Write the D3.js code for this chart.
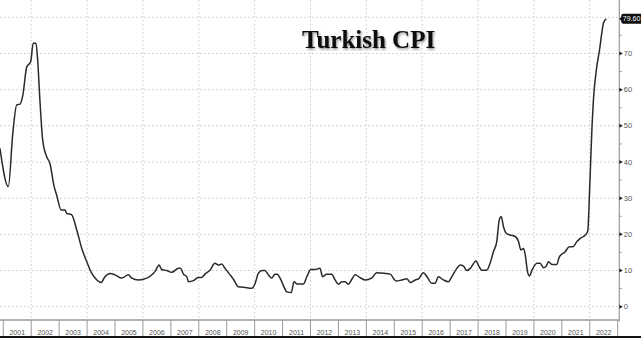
<!DOCTYPE html>
<html>
<head>
<meta charset="utf-8">
<script src="https://cdn.jsdelivr.net/npm/d3@7"></script>
<style>
  html, body { margin: 0; padding: 0; background: #fff; }
  svg { display: block; }
</style>
</head>
<body>
<div id="chart"></div>
<script>
// Turkish CPI, YoY % (decimal year, value)
const dates = [
  2000.88, 2001.18, 2001.34, 2001.48, 2001.60, 2001.70, 2001.84, 2001.98, 2002.07, 2002.17,
  2002.23, 2002.31, 2002.41, 2002.55, 2002.67, 2002.82, 2002.91, 2003.07, 2003.21, 2003.27,
  2003.45, 2003.63, 2003.81, 2003.99, 2004.17, 2004.35, 2004.50, 2004.64, 2004.82, 2005.00,
  2005.24, 2005.48, 2005.60, 2005.84, 2006.14, 2006.37, 2006.43, 2006.58, 2006.67, 2006.85,
  2007.03, 2007.27, 2007.35, 2007.45, 2007.57, 2007.63, 2007.81, 2007.98, 2008.11, 2008.22,
  2008.40, 2008.58, 2008.70, 2008.82, 2008.94, 2009.12, 2009.24, 2009.42, 2009.60, 2009.90,
  2010.02, 2010.13, 2010.26, 2010.37, 2010.49, 2010.61, 2010.73, 2010.81, 2010.91, 2011.05,
  2011.15, 2011.31, 2011.41, 2011.51, 2011.75, 2011.87, 2012.01, 2012.16, 2012.34, 2012.43,
  2012.58, 2012.76, 2012.88, 2013.00, 2013.12, 2013.24, 2013.36, 2013.48, 2013.60, 2013.78,
  2013.96, 2014.20, 2014.37, 2014.67, 2014.85, 2015.07, 2015.27, 2015.45, 2015.57, 2015.75,
  2015.87, 2016.04, 2016.17, 2016.34, 2016.46, 2016.58, 2016.76, 2016.94, 2017.06, 2017.24,
  2017.36, 2017.48, 2017.60, 2017.72, 2017.93, 2018.01, 2018.14, 2018.31, 2018.43, 2018.55,
  2018.67, 2018.76, 2018.83, 2018.91, 2019.01, 2019.15, 2019.33, 2019.45, 2019.53, 2019.63,
  2019.69, 2019.77, 2019.84, 2019.93, 2020.11, 2020.22, 2020.34, 2020.44, 2020.52, 2020.64,
  2020.82, 2020.91, 2021.12, 2021.27, 2021.39, 2021.54, 2021.66, 2021.84, 2021.93, 2021.99,
  2022.08, 2022.13, 2022.25, 2022.35, 2022.43, 2022.49, 2022.59
];
const cpi = [
  43.8, 33.2, 47.9, 55.8, 56.0, 58.5, 66.3, 67.7, 72.8, 72.8,
  68.2, 57.2, 46.1, 41.5, 39.6, 33.2, 30.9, 26.7, 26.7, 25.8,
  25.4, 21.2, 16.1, 12.4, 9.2, 7.4, 6.7, 8.3, 9.2, 8.8,
  7.9, 8.8, 7.9, 7.4, 7.9, 9.2, 9.7, 11.5, 10.3, 10.0,
  9.5, 10.6, 10.6, 9.0, 8.3, 6.9, 7.2, 8.1, 8.1, 9.0,
  10.1, 12.0, 11.5, 11.8, 10.6, 8.8, 7.6, 5.5, 5.4, 5.1,
  6.5, 9.2, 10.0, 10.0, 8.8, 7.9, 9.0, 9.0, 7.9, 5.5,
  4.1, 3.9, 6.9, 6.3, 6.3, 8.3, 10.3, 10.3, 10.6, 8.3,
  9.0, 9.0, 7.4, 6.2, 6.9, 6.9, 6.2, 7.6, 8.8, 8.0,
  7.4, 8.0, 9.4, 9.2, 9.0, 7.1, 7.4, 7.7, 6.7, 7.4,
  7.7, 9.4, 8.3, 6.5, 6.5, 8.3, 7.4, 6.9, 8.3, 10.6,
  11.5, 11.2, 10.0, 10.6, 12.6, 11.5, 10.1, 10.1, 12.0, 15.2,
  18.0, 24.0, 24.9, 22.1, 20.3, 19.8, 19.4, 18.0, 15.7, 16.1,
  14.3, 9.7, 8.5, 10.1, 12.0, 12.0, 10.8, 11.2, 12.4, 11.7,
  11.7, 13.8, 15.2, 16.6, 16.6, 18.0, 18.9, 19.8, 21.0, 31.4,
  49.8, 57.1, 66.3, 71.0, 75.6, 78.4, 79.6
];
const years = d3.range(2001, 2023);
const yTicks = [0, 10, 20, 30, 40, 50, 60, 70, 80];
const yMinor = [5, 15, 25, 35, 45, 55, 65, 75];
const gridYears = [2002, 2004, 2006, 2008, 2010, 2012, 2014, 2016, 2018, 2020, 2022];
const lastLabel = '79.60';
const title = 'Turkish CPI';

const width = 641, height = 338;
const plotRight = 619.3, plotBottom = 320, axisBottom = 336;

const svg = d3.select('#chart').append('svg')
  .attr('width', width)
  .attr('height', height);

const x = d3.scaleLinear().domain([2001, 2023]).range([3.3, 617.7]);
const y = d3.scaleLinear().domain([0, 80]).range([306.7, 17.3]);

// title shadow filter
const defs = svg.append('defs');
const f = defs.append('filter').attr('id', 'shadow')
  .attr('x', '-10%').attr('y', '-30%').attr('width', '120%').attr('height', '160%');
f.append('feDropShadow').attr('dx', 1).attr('dy', 1.5).attr('stdDeviation', 1.3)
  .attr('flood-color', '#000').attr('flood-opacity', 0.45);

// gridlines
svg.append('g').selectAll('line')
  .data(yTicks)
  .join('line')
  .attr('x1', 0).attr('x2', plotRight)
  .attr('y1', d => y(d)).attr('y2', d => y(d))
  .attr('stroke', '#c8c8c8')
  .attr('stroke-width', 1)
  .attr('stroke-dasharray', '1.5,2.5');

svg.append('g').selectAll('line')
  .data(gridYears)
  .join('line')
  .attr('x1', d => x(d)).attr('x2', d => x(d))
  .attr('y1', 0).attr('y2', plotBottom)
  .attr('stroke', '#c8c8c8')
  .attr('stroke-width', 1)
  .attr('stroke-dasharray', '1.5,2.5');

// CPI line
const line = d3.line()
  .x((d, i) => x(dates[i]))
  .y(d => y(d))
  .curve(d3.curveMonotoneX);

svg.append('path')
  .datum(cpi)
  .attr('d', line)
  .attr('fill', 'none')
  .attr('stroke', '#2a2a2a')
  .attr('stroke-width', 1.5)
  .attr('stroke-linejoin', 'round');

// bottom axis: line, year cells and labels
svg.append('line')
  .attr('x1', 0).attr('x2', plotRight)
  .attr('y1', plotBottom).attr('y2', plotBottom)
  .attr('stroke', '#9a9a9a').attr('stroke-width', 1.5);

svg.append('g').selectAll('line')
  .data(years.concat([2023]))
  .join('line')
  .attr('x1', d => x(d)).attr('x2', d => x(d))
  .attr('y1', plotBottom).attr('y2', axisBottom)
  .attr('stroke', '#9a9a9a').attr('stroke-width', 1);

svg.append('g').selectAll('text')
  .data(years)
  .join('text')
  .attr('x', d => x(d + 0.5))
  .attr('y', 335.3)
  .attr('text-anchor', 'middle')
  .attr('font-family', 'Liberation Sans, Arial, sans-serif')
  .attr('font-size', 7)
  .attr('fill', '#555')
  .text(d => d);

svg.append('rect')
  .attr('x', 0).attr('y', axisBottom)
  .attr('width', width).attr('height', height - axisBottom)
  .attr('fill', '#111');

// right axis
svg.append('line')
  .attr('x1', plotRight).attr('x2', plotRight)
  .attr('y1', 0).attr('y2', plotBottom + 1.5)
  .attr('stroke', '#9a9a9a').attr('stroke-width', 1.2);

svg.append('g').selectAll('line')
  .data(yMinor)
  .join('line')
  .attr('x1', plotRight).attr('x2', plotRight + 2.5)
  .attr('y1', d => y(d)).attr('y2', d => y(d))
  .attr('stroke', '#9a9a9a');

const ticks = svg.append('g').selectAll('g')
  .data(yTicks.filter(d => d < 80))
  .join('g')
  .attr('transform', d => `translate(${plotRight},${y(d)})`);

ticks.append('path')
  .attr('d', 'M0,-2L3.5,0L0,2Z')
  .attr('fill', '#222');

ticks.append('text')
  .attr('x', 4.5)
  .attr('dy', '0.35em')
  .attr('font-family', 'Liberation Sans, Arial, sans-serif')
  .attr('font-size', 7.5)
  .attr('fill', '#555')
  .text(d => d);

// last value badge
const lastY = y(cpi[cpi.length - 1]);
svg.append('rect')
  .attr('x', plotRight + 2).attr('y', lastY - 5)
  .attr('width', 24).attr('height', 10)
  .attr('rx', 2)
  .attr('fill', '#111');
svg.append('path')
  .attr('d', `M${plotRight},${lastY}L${plotRight + 3},${lastY - 3}L${plotRight + 3},${lastY + 3}Z`)
  .attr('fill', '#111');
svg.append('text')
  .attr('x', plotRight + 3.5)
  .attr('y', lastY)
  .attr('dy', '0.35em')
  .attr('font-family', 'Liberation Sans, Arial, sans-serif')
  .attr('font-size', 7)
  .attr('fill', '#fff')
  .text(lastLabel);

// title
svg.append('text')
  .attr('x', 302)
  .attr('y', 48)
  .attr('font-family', 'Liberation Serif, Times New Roman, serif')
  .attr('font-weight', 'bold')
  .attr('font-size', 25)
  .attr('fill', '#111')
  .attr('filter', 'url(#shadow)')
  .text(title);
</script>
</body>
</html>
